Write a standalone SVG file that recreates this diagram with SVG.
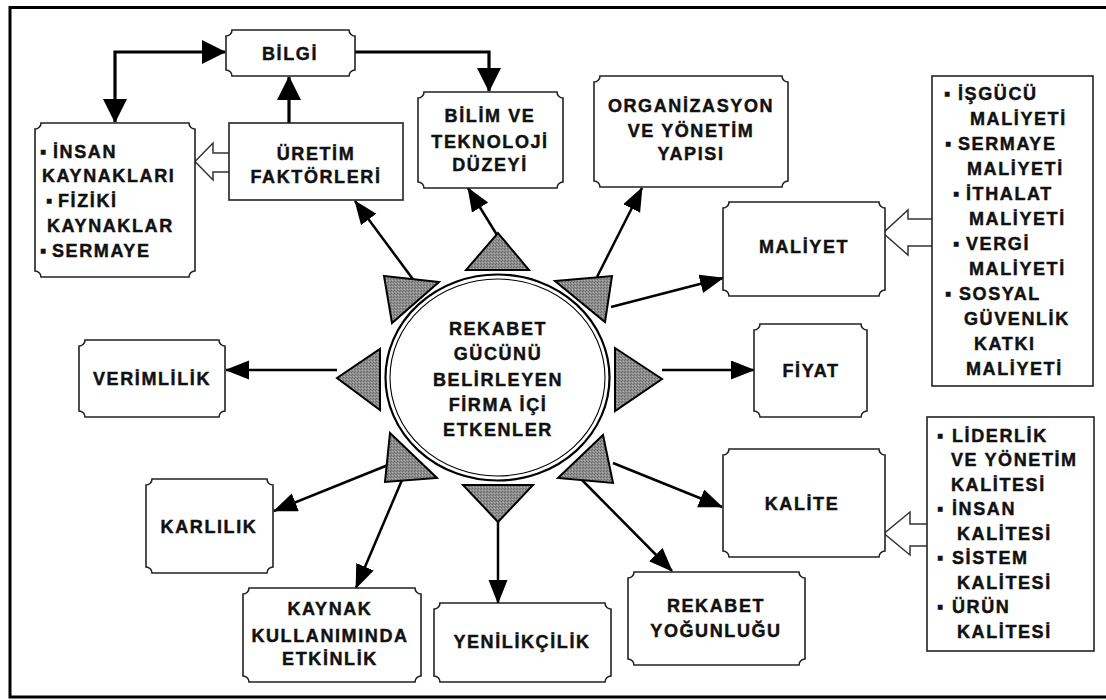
<svg xmlns="http://www.w3.org/2000/svg" width="1106" height="700" viewBox="0 0 1106 700">
<defs>
<style>
.t{font-family:"Liberation Sans",Arial,sans-serif;font-weight:bold;font-size:18px;letter-spacing:1.6px;fill:#111;stroke:#111;stroke-width:0.45}
.c{text-anchor:middle}
.box{fill:#fff;stroke:#222;stroke-width:1.6}
.blk{fill:#fff;stroke:#333;stroke-width:1.5}
.tri{fill:url(#dither);stroke:#000;stroke-width:2;stroke-linejoin:miter}
.ln{fill:none;stroke:#000;stroke-width:2.5}
.lnb{fill:none;stroke:#000;stroke-width:3.2}
</style>
<pattern id="dither" width="3" height="3" patternUnits="userSpaceOnUse">
<rect width="3" height="3" fill="#8e8e8e"/>
<rect width="1" height="1" fill="#6a6a6a"/>
<rect x="2" y="1" width="1" height="1" fill="#b0b0b0"/>
<rect x="1" y="2" width="1" height="1" fill="#6a6a6a"/>
</pattern>
<marker id="ah" markerUnits="userSpaceOnUse" markerWidth="24" markerHeight="20" refX="23" refY="9.5" orient="auto-start-reverse" viewBox="0 0 24 20">
<path d="M0,0 L24,9.5 L0,19 Z" fill="#000"/>
</marker>
<marker id="ahb" markerUnits="userSpaceOnUse" markerWidth="24" markerHeight="24" refX="23" refY="12" orient="auto-start-reverse" viewBox="0 0 24 24">
<path d="M0,0 L24,12 L0,24 Z" fill="#000"/>
</marker>
</defs>
<rect x="0" y="0" width="1106" height="700" fill="#fff"/>
<rect x="10" y="7.5" width="1100" height="689.5" fill="none" stroke="#000" stroke-width="3"/>

<g id="connectors">
<path class="lnb" d="M115,122 V52 H225" marker-start="url(#ahb)" marker-end="url(#ahb)"/>
<path class="lnb" d="M355,52 H489 V91" marker-end="url(#ahb)"/>
<path class="lnb" d="M289,123 V77" marker-end="url(#ahb)"/>
<path class="ln" d="M415,282 L355,201" marker-end="url(#ah)"/>
<path class="ln" d="M497,235 L468,188" marker-end="url(#ah)"/>
<path class="ln" d="M597,277 L642,188" marker-end="url(#ah)"/>
<path class="ln" d="M611,307 L723,278" marker-end="url(#ah)"/>
<path class="ln" d="M662,370 H754" marker-end="url(#ah)"/>
<path class="ln" d="M337,370 H226" marker-end="url(#ah)"/>
<path class="ln" d="M393,463 L274,511" marker-end="url(#ah)"/>
<path class="ln" d="M402,480 L356,588" marker-end="url(#ah)"/>
<path class="ln" d="M498,522 V603" marker-end="url(#ah)"/>
<path class="ln" d="M580,478 L672,571" marker-end="url(#ah)"/>
<path class="ln" d="M613,463 L722,507" marker-end="url(#ah)"/>
<path class="blk" d="M231,153 H213 V143 L195,161.5 L213,180 V172 H231"/>
<path class="blk" d="M934,219 H908 V210 L883,233 L908,255 V246 H934"/>
<path class="blk" d="M929,524 H910 V512 L884,533.5 L910,555 V546 H929"/>
</g>

<g id="center">
<ellipse cx="497.5" cy="377.5" rx="112" ry="103" fill="#fff" stroke="#000" stroke-width="2.2"/>
<ellipse cx="497.5" cy="377.5" rx="107.5" ry="98.5" fill="none" stroke="#000" stroke-width="1.1"/>
<text class="t c" x="498" y="335">REKABET</text>
<text class="t c" x="498" y="360">GÜCÜNÜ</text>
<text class="t c" x="498" y="386">BELİRLEYEN</text>
<text class="t c" x="498" y="411">FİRMA İÇİ</text>
<text class="t c" x="498" y="436">ETKENLER</text>
</g>

<g id="triangles">
<polygon class="tri" points="466,270 529,270 498,233"/>
<polygon class="tri" points="384,276 439,282 392,323"/>
<polygon class="tri" points="555,281 612,276 605,322"/>
<polygon class="tri" points="380,349 380,410 337,378"/>
<polygon class="tri" points="615,348 615,411 662,379"/>
<polygon class="tri" points="390,433 437,478 385,482"/>
<polygon class="tri" points="603,435 613,483 558,478"/>
<polygon class="tri" points="463,485 533,485 498,522"/>
</g>

<g id="bilgi">
<path class="box" d="M232,30 H349 A6,6 0 0 0 355,36 V70 A6,6 0 0 0 349,76 H232 A6,6 0 0 0 226,70 V36 A6,6 0 0 0 232,30 Z"/>
<text class="t c" x="290" y="60">BİLGİ</text>
</g>

<g id="insan-kaynaklari">
<path class="box" d="M41,123 H189 A6,6 0 0 0 195,129 V271 A6,6 0 0 0 189,277 H41 A6,6 0 0 0 35,271 V129 A6,6 0 0 0 41,123 Z"/>
<text class="t" x="40" y="158">▪<tspan x="53">İNSAN</tspan></text>
<text class="t" x="42" y="182">KAYNAKLARI</text>
<text class="t" x="46" y="207">▪<tspan x="58">FİZİKİ</tspan></text>
<text class="t" x="47" y="232">KAYNAKLAR</text>
<text class="t" x="40" y="257">▪<tspan x="52">SERMAYE</tspan></text>
</g>

<g id="uretim">
<rect class="box" x="229" y="123" width="174" height="77"/>
<text class="t c" x="316" y="160">ÜRETİM</text>
<text class="t c" x="316" y="183">FAKTÖRLERİ</text>
</g>

<g id="bilim">
<path class="box" d="M424,92 H557 A6,6 0 0 0 563,98 V182 A6,6 0 0 0 557,188 H424 A6,6 0 0 0 418,182 V98 A6,6 0 0 0 424,92 Z"/>
<text class="t c" x="490" y="122">BİLİM VE</text>
<text class="t c" x="490" y="148">TEKNOLOJİ</text>
<text class="t c" x="490" y="171">DÜZEYİ</text>
</g>

<g id="organizasyon">
<path class="box" d="M600,76 H782 A6,6 0 0 0 788,82 V181 A6,6 0 0 0 782,187 H600 A6,6 0 0 0 594,181 V82 A6,6 0 0 0 600,76 Z"/>
<text class="t c" x="691" y="112">ORGANİZASYON</text>
<text class="t c" x="691" y="137">VE YÖNETİM</text>
<text class="t c" x="691" y="160">YAPISI</text>
</g>

<g id="maliyet-list">
<rect class="box" x="932" y="76" width="161" height="310"/>
<text class="t" x="944" y="100">▪<tspan x="958">İŞGÜCÜ</tspan></text>
<text class="t" x="970" y="125">MALİYETİ</text>
<text class="t" x="945" y="150">▪<tspan x="958">SERMAYE</tspan></text>
<text class="t" x="967" y="175">MALİYETİ</text>
<text class="t" x="953" y="200">▪<tspan x="966">İTHALAT</tspan></text>
<text class="t" x="969" y="225">MALİYETİ</text>
<text class="t" x="953" y="250">▪<tspan x="966">VERGİ</tspan></text>
<text class="t" x="969" y="275">MALİYETİ</text>
<text class="t" x="945" y="300">▪<tspan x="959">SOSYAL</tspan></text>
<text class="t" x="964" y="325">GÜVENLİK</text>
<text class="t" x="974" y="350">KATKI</text>
<text class="t" x="966" y="375">MALİYETİ</text>
</g>

<g id="maliyet">
<path class="box" d="M729,202 H879 A6,6 0 0 0 885,208 V290 A6,6 0 0 0 879,296 H729 A6,6 0 0 0 723,290 V208 A6,6 0 0 0 729,202 Z"/>
<text class="t c" x="804" y="253">MALİYET</text>
</g>

<g id="fiyat">
<path class="box" d="M760,324 H861 A6,6 0 0 0 867,330 V411 A6,6 0 0 0 861,417 H760 A6,6 0 0 0 754,411 V330 A6,6 0 0 0 760,324 Z"/>
<text class="t c" x="811" y="377">FİYAT</text>
</g>

<g id="kalite">
<path class="box" d="M729,449 H879 A6,6 0 0 0 885,455 V551 A6,6 0 0 0 879,557 H729 A6,6 0 0 0 723,551 V455 A6,6 0 0 0 729,449 Z"/>
<text class="t c" x="802" y="510">KALİTE</text>
</g>

<g id="kalite-list">
<rect class="box" x="927" y="417" width="167" height="234"/>
<text class="t" x="937" y="442">▪<tspan x="952">LİDERLİK</tspan></text>
<text class="t" x="951" y="466">VE YÖNETİM</text>
<text class="t" x="951" y="491">KALİTESİ</text>
<text class="t" x="937" y="515">▪<tspan x="952">İNSAN</tspan></text>
<text class="t" x="957" y="540">KALİTESİ</text>
<text class="t" x="937" y="564">▪<tspan x="952">SİSTEM</tspan></text>
<text class="t" x="957" y="589">KALİTESİ</text>
<text class="t" x="937" y="613">▪<tspan x="952">ÜRÜN</tspan></text>
<text class="t" x="957" y="638">KALİTESİ</text>
</g>

<g id="rekabet-yogunlugu">
<path class="box" d="M634,572 H799 A6,6 0 0 0 805,578 V659 A6,6 0 0 0 799,665 H634 A6,6 0 0 0 628,659 V578 A6,6 0 0 0 634,572 Z"/>
<text class="t c" x="716" y="612">REKABET</text>
<text class="t c" x="716" y="637">YOĞUNLUĞU</text>
</g>

<g id="yenilikcilik">
<path class="box" d="M440,603 H605 A6,6 0 0 0 611,609 V676 A6,6 0 0 0 605,682 H440 A6,6 0 0 0 434,676 V609 A6,6 0 0 0 440,603 Z"/>
<text class="t c" x="522" y="648">YENİLİKÇİLİK</text>
</g>

<g id="kaynak">
<path class="box" d="M249,588 H415 A6,6 0 0 0 421,594 V676 A6,6 0 0 0 415,682 H249 A6,6 0 0 0 243,676 V594 A6,6 0 0 0 249,588 Z"/>
<text class="t c" x="330" y="615">KAYNAK</text>
<text class="t c" x="330" y="642">KULLANIMINDA</text>
<text class="t c" x="330" y="665">ETKİNLİK</text>
</g>

<g id="karlilik">
<path class="box" d="M152,479 H267 A6,6 0 0 0 273,485 V567 A6,6 0 0 0 267,573 H152 A6,6 0 0 0 146,567 V485 A6,6 0 0 0 152,479 Z"/>
<text class="t c" x="209" y="533">KARLILIK</text>
</g>

<g id="verimlilik">
<path class="box" d="M85,340 H219 A6,6 0 0 0 225,346 V411 A6,6 0 0 0 219,417 H85 A6,6 0 0 0 79,411 V346 A6,6 0 0 0 85,340 Z"/>
<text class="t c" x="152" y="385">VERİMLİLİK</text>
</g>
</svg>
